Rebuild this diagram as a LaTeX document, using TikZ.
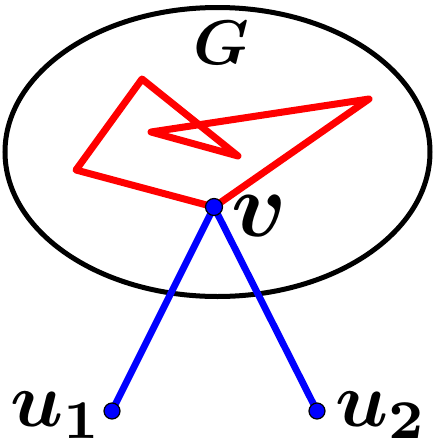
\documentclass[tikz,border=0pt]{standalone}
\usepackage{bm}
\usepackage{graphicx}
\begin{document}
\begin{tikzpicture}[x=1pt,y=-1pt,
  redline/.style={red,line width=7pt,line join=round,line cap=round},
  blueline/.style={blue,line width=6.8pt},
  vdot/.style={circle,fill=blue,draw=black,line width=1.2pt,minimum size=17pt,inner sep=0pt},
  lab/.style={inner sep=0pt}]
\useasboundingbox (0,0) rectangle (435,448);
\draw[line width=5pt] (217.5,152) ellipse [x radius=212.5, y radius=144.5];
\coordinate (v) at (214,207);
\coordinate (p1) at (369,99);
\coordinate (p2) at (151,132);
\coordinate (p3) at (238,156);
\coordinate (p4) at (142,79);
\coordinate (p5) at (76,170);
\coordinate (u1) at (112,411);
\coordinate (u2) at (317,411);
\draw[redline] (v) -- (p1) -- (p2) -- (p3) -- (p4) -- (p5) -- cycle;
\draw[blueline] (v) -- (u1);
\draw[blueline] (v) -- (u2);
\node[vdot] (vn) at (v) {};
\node[vdot,minimum size=16pt] (u1n) at (u1) {};
\node[vdot,minimum size=16pt] (u2n) at (u2) {};
\node[lab] (G) at (221,43) {\scalebox{6.3}{$\bm{G}$}};
\node[lab] (vl) at (259,216) {\scalebox{9.2}{$\bm{v}$}};
\node[lab] (u1l) at (57,415) {\scalebox{7.8}{$\bm{u_1}$}};
\node[lab] (u2l) at (382,415) {\scalebox{7.8}{$\bm{u_2}$}};
\end{tikzpicture}
\end{document}
